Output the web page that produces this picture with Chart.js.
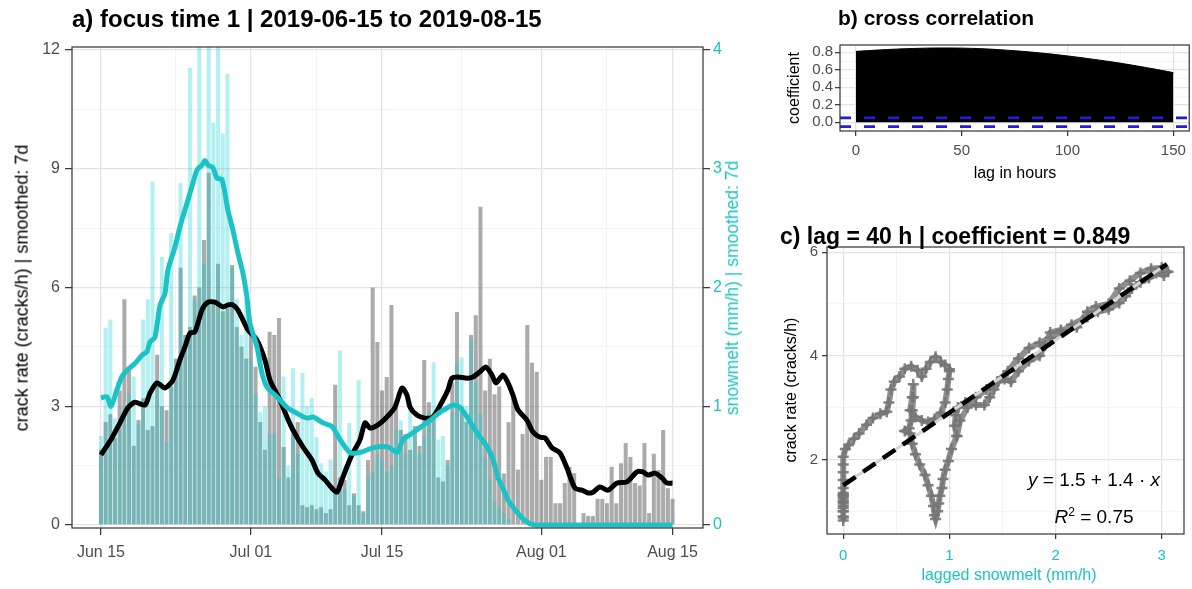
<!DOCTYPE html>
<html>
<head>
<meta charset="utf-8">
<script src="https://cdn.jsdelivr.net/npm/chart.js@4.4.1/dist/chart.umd.min.js"></script>
<style>
  body { margin: 0; background: #fff; width: 1192px; height: 589px; overflow: hidden; position: relative;
         font-family: "Liberation Sans", Arial, sans-serif; }
  canvas { position: absolute; }
  .txt { position: absolute; white-space: nowrap; line-height: 1.15; color: #000; }
</style>
</head>
<body>
<canvas id="melt-chart" width="760" height="589" style="left:0;top:0"></canvas>
<canvas id="ccf-chart" width="432" height="200" style="left:760px;top:0"></canvas>
<canvas id="lag-chart" width="432" height="359" style="left:760px;top:230px"></canvas>
<script>
// ---- panel a : 12 h bins from 2019-06-15 (day 0) ----
const crackBins = [1.9,2.6,2.8,2.2,3.4,5.7,3.9,2.0,2.65,3.2, 2.4,2.5,4.3,3.0,2.9,3.5,4.2,6.5,4.8,5.0,
  5.8,6.0,7.2,8.9,5.6,6.6,5.4,5.5,6.57,5.0, 4.5,4.2,5.0,4.0,2.6,1.9,4.88,4.8,5.23,1.97,
  1.2,2.3,2.6,0.5,0.45,0.5,0.4,0.45,0.3,0.4, 3.54,1.2,1.14,0.5,0.8,0.5,0.35,1.64,6.0,4.62,
  3.4,3.74,5.56,3.0,2.4,2.3,1.9,2.5,2.0,4.17, 3.1,2.8,1.2,1.1,1.64,3.6,5.38,3.0,2.6,4.8,
  5.3,8.04,3.4,4.2,3.3,3.5,1.3,2.6,3.2,1.4, 2.3,5.05,4.1,3.87,1.14,1.72,1.72,0.55,0.55,1.06,
  1.47,1.31,0,0.3,0.23,0.23,0.66,0.66,0.55,1.47, 0.55,1.56,2.07,1.72,1.06,1.0,2.07,0.3,1.8,1.39,
  2.4,0.93,0.66];
const snowBins = [0.75,1.66,1.73,0.9,0.8,1.0,1.1,1.25,0.85,1.73, 1.9,2.89,1.2,2.26,0.7,2.46,1.3,2.88,1.6,3.85,
  1.9,4.6,2.2,4.6,3.39,4.6,3.3,3.8,2.17,1.9, 1.6,1.9,1.4,1.1,0.95,1.0,0.77,0.77,0.4,1.25,
  0.5,1.32,0.6,1.28,1.0,1.07,0.74,0.52,0.45,0.55, 0.3,1.47,0.3,0.86,0.25,1.22,0.1,0.4,0.45,0.6,
  0.55,0.45,0.5,0.8,0.88,0.6,1.05,0.75,0.6,0.75, 0.95,1.37,0.72,0.75,0.5,0.95,1.36,1.41,1.0,1.56,
  1.2,0.94,0.57,0.38,0.2,0.15,0.1,0.05,0,0, 0,0,0,0,0,0,0,0,0,0,
  0,0,0,0,0,0,0,0,0,0, 0,0,0,0,0,0,0,0,0,0,
  0,0,0];

const crackSmoothDay = [0,1.17,2.03,2.88,3.63,4.70,5.23,5.98,6.83,7.68,8.43,8.96,9.50,10.03,10.78,11.42,12.17,13.02,13.55,14.09,
  14.62,15.15,15.69,16.65,17.50,18.04,19.10,19.85,20.49,21.56,22.52,23.16,23.91,24.65,25.19,25.72,26.25,26.89,27.64,28.18,
  28.71,29.56,30.52,31.38,32.12,32.66,32.98,33.72,34.58,35.43,36.50,37.03,37.46,38.10,39.06,39.70,40.45,41.09,41.73,42.16,
  42.90,43.44,43.97,44.50,45.46,46.10,46.85,47.39,48.13,48.99,49.73,50.59,51.33,51.97,52.51,53.25,54.11,55.07,56.14,57.20,
  57.84,58.38,59.12,59.87,60.40,61.0];
const crackSmooth = [1.77,2.2,2.58,2.96,3.1,3.03,3.33,3.59,3.46,3.66,4.17,4.5,4.85,4.88,5.43,5.63,5.63,5.51,5.56,5.56,
  5.43,5.18,4.93,4.67,4.17,3.66,3.16,2.73,2.4,1.97,1.64,1.31,1.14,0.93,0.83,1.14,1.47,1.82,2.15,2.58,
  2.45,2.53,2.73,2.98,3.46,3.28,2.98,2.78,2.7,2.73,3.16,3.41,3.71,3.74,3.71,3.74,3.87,3.99,3.79,3.59,
  3.79,3.59,3.28,2.91,2.65,2.35,2.22,2.2,1.95,1.82,1.44,0.93,0.88,0.81,0.83,0.96,0.88,1.06,1.09,1.34,
  1.34,1.26,1.31,1.19,1.06,1.06];
const snowSmoothDay = [0,0.64,1.07,1.71,2.24,2.88,3.63,4.38,4.91,5.23,5.76,6.30,6.83,7.15,7.90,8.43,9.18,9.71,10.25,10.78,
  11.10,11.42,11.95,12.38,12.91,13.55,14.09,14.62,15.15,15.58,15.90,16.65,17.18,17.72,18.78,19.85,20.92,21.99,22.63,23.69,
  24.65,25.51,26.57,27.64,29.03,30.10,30.84,31.59,32.23,32.98,34.04,35.11,36.18,37.03,37.57,38.31,39.06,39.70,40.45,41.20,
  41.84,42.37,42.90,43.44,44.18,44.93,45.78,46.53,61.0];
const snowSmooth = [1.07,1.08,1.0,1.14,1.25,1.31,1.36,1.43,1.46,1.54,1.58,1.85,1.95,2.15,2.34,2.51,2.71,2.85,2.99,3.03,
  3.07,3.03,3.01,2.92,2.91,2.65,2.48,2.29,2.12,1.92,1.70,1.50,1.28,1.16,1.08,0.99,0.94,0.90,0.91,0.86,
  0.83,0.72,0.61,0.61,0.65,0.66,0.65,0.61,0.72,0.76,0.82,0.88,0.95,0.99,1.01,0.99,0.91,0.83,0.74,0.66,
  0.55,0.40,0.31,0.21,0.13,0.06,0.01,0,0];

const dateTicks = [0,16,30,47,61];
const dateLabels = ["Jun 15","Jul 01","Jul 15","Aug 01","Aug 15"];
const dateMinor = [8,23,38.5,54];
const crackTicks = [0,3,6,9,12];
const crackMinor = [1.5,4.5,7.5,10.5];
const snowTicks = [0,1,2,3,4];

// ---- panel b ----
const lagHours = [0,10,20,30,40,50,60,70,80,90,100,110,120,130,140,150];
const ccfCoef = [0.81,0.825,0.837,0.845,0.849,0.847,0.84,0.826,0.808,0.785,0.758,0.727,0.693,0.655,0.613,0.567];
const ciBound = 0.05;
const lagTicks = [0,50,100,150];
const lagMinor = [25,75,125];
const coefTicks = [0,0.2,0.4,0.6,0.8];
const coefMinor = [0.1,0.3,0.5,0.7];

// ---- panel c ----
const lagMelt = [1.07,1.05,1.06,1.08,1.15,1.25,1.33,1.38,1.42,1.46,1.52,1.58,1.65,1.75,1.85,1.9,1.95,
  2.05,2.2,2.3,2.38,2.5,2.6,2.7,2.8,2.9,3.0,3.06,3.02,2.95,2.88,2.8,2.72,2.66,2.6,
  2.5,2.4,2.3,2.15,2.05,1.95,1.85,1.75,1.65,1.55,1.45,1.35,1.25,1.17,1.1,1.07,
  1.02,0.99,0.96,0.94,0.93,0.91,0.9,0.89,0.87,0.86,0.85,0.83,0.8,0.77,0.72,0.68,0.65,
  0.63,0.58,0.62,0.64,0.65,0.66,0.66,0.65,0.63,
  0.68,0.74,0.8,0.86,0.92,0.96,0.98,0.99,1.0,1.0,
  0.96,0.92,0.87,0.82,0.78,0.74,0.7,0.64,0.58,0.53,0.48,0.45,0.43,0.41,0.35,0.28,0.22,0.15,0.1,0.05,0.02,0,
  0,0,0,0,0,0,0,0,0,0,0,0,0,0,0,0,0,0,0];
const lagCrack = [2.45,2.65,2.85,3.0,3.1,3.05,3.05,3.2,3.35,3.5,3.55,3.5,3.7,3.9,4.0,4.2,4.45,
  4.5,4.55,4.85,4.95,5.0,5.3,5.45,5.6,5.68,5.7,5.62,5.55,5.6,5.5,5.42,5.3,5.15,5.02,
  4.9,4.85,4.75,4.6,4.45,4.35,4.25,4.15,3.95,3.7,3.5,3.35,3.2,3.0,2.75,2.45,
  2.2,1.97,1.8,1.62,1.45,1.3,1.15,1.0,0.85,0.92,1.1,1.3,1.5,1.7,1.9,2.1,2.3,
  2.5,2.55,2.6,2.75,2.95,3.2,3.45,3.2,2.95,
  2.82,2.75,2.72,2.78,2.9,3.1,3.35,3.55,3.7,3.74,
  3.82,3.88,3.98,3.88,3.75,3.6,3.72,3.8,3.75,3.6,3.5,3.35,3.1,2.92,2.88,2.8,2.67,2.5,2.4,2.28,2.2,2.05,
  1.9,1.75,1.6,1.45,1.3,1.15,1.0,0.88,0.82,0.9,1.0,1.1,1.2,1.32,1.35,1.25,1.3,1.18,1.06];
const fitMelt = [0,3.05];
const fitCrack = [1.5,5.77];
const meltTicks = [0,1,2,3];
const meltMinor = [0.5,1.5,2.5];
const rateTicks = [2,4,6];
const rateMinor = [1,3,5];

const FONT = '"Liberation Sans", Arial, sans-serif';
const CYAN = "#1cc3c6";
const TXT = "#4d4d4d";

function pairs(xs, ys) { return xs.map((x, i) => ({x: x, y: ys[i]})); }

// major axis: labels, tick marks, major grid
function axis(o) {
  return {
    type: "linear", position: o.pos, min: o.min, max: o.max, offset: false,
    afterBuildTicks: s => { s.ticks = o.major.map(v => ({value: v})); },
    afterFit: s => { if (o.w !== undefined) s.width = o.w; if (o.h !== undefined) s.height = o.h; },
    border: {display: false},
    grid: {offset: false, drawOnChartArea: o.grid !== false, color: "#e3e3e3", lineWidth: 1.3,
           tickColor: "#333", tickLength: o.tl, tickWidth: 1.2},
    ticks: {autoSkip: false, maxRotation: 0, padding: o.pad, color: o.color || TXT,
            font: {family: FONT, size: o.fs}, callback: v => o.fmt(v)}
  };
}
// minor grid only, takes no room
function minorAxis(pos, min, max, vals) {
  return {
    type: "linear", position: pos, min: min, max: max, offset: false,
    afterBuildTicks: s => { s.ticks = vals.map(v => ({value: v})); },
    afterFit: s => { if (pos === "left" || pos === "right") s.width = 0; else s.height = 0; },
    border: {display: false},
    grid: {offset: false, color: "#f1f1f1", lineWidth: 0.8, drawTicks: false},
    ticks: {display: false}
  };
}

const frame = {
  id: "frame",
  afterDatasetsDraw(chart) {
    const a = chart.chartArea, ctx = chart.ctx;
    ctx.save();
    ctx.strokeStyle = "#333";
    ctx.lineWidth = 1.2;
    ctx.strokeRect(a.left, a.top, a.right - a.left, a.bottom - a.top);
    ctx.restore();
  }
};

const common = {
  responsive: false, animation: false, devicePixelRatio: 1,
  plugins: {legend: {display: false}, tooltip: {enabled: false}}
};

// ---- panel a ----
new Chart("melt-chart", {
  type: "bar",
  data: {
    datasets: [
      {type: "line", label: "snowmelt smoothed", data: pairs(snowSmoothDay, snowSmooth), yAxisID: "y2",
       borderColor: CYAN, borderWidth: 5, pointRadius: 0, tension: 0.25, order: 0},
      {type: "line", label: "crack rate smoothed", data: pairs(crackSmoothDay, crackSmooth), yAxisID: "y",
       borderColor: "#000", borderWidth: 5, pointRadius: 0, tension: 0.25, order: 1},
      {label: "snowmelt", data: snowBins.map((v, i) => ({x: i * 0.5, y: v})), yAxisID: "y2",
       backgroundColor: "rgba(0,206,209,0.3)", grouped: false, barPercentage: 0.86, categoryPercentage: 1, order: 2},
      {label: "crack rate", data: crackBins.map((v, i) => ({x: i * 0.5, y: v})), yAxisID: "y",
       backgroundColor: "rgba(120,120,120,0.62)", grouped: false, barPercentage: 0.86, categoryPercentage: 1, order: 3}
    ]
  },
  options: Object.assign({}, common, {
    layout: {padding: {top: 47, left: 0, right: 0, bottom: 0}},
    scales: {
      xm: minorAxis("bottom", -3.09, 64.25, dateMinor),
      ym: minorAxis("left", -0.076, 12.076, crackMinor),
      x: axis({pos: "bottom", min: -3.09, max: 64.25, major: dateTicks, h: 61, tl: 7, pad: 8, fs: 16,
               fmt: v => dateLabels[dateTicks.indexOf(v)]}),
      y: axis({pos: "left", min: -0.076, max: 12.076, major: crackTicks, w: 72, tl: 7, pad: 5, fs: 16,
               fmt: v => String(v)}),
      y2: axis({pos: "right", min: -0.0253, max: 4.0253, major: snowTicks, w: 57, tl: 7, pad: 3, fs: 16, grid: false,
                color: CYAN, fmt: v => String(v)})
    }
  }),
  plugins: [frame]
});

// ---- panel b ----
new Chart("ccf-chart", {
  type: "line",
  data: {
    datasets: [
      {label: "upper", data: [{x: -7.5, y: ciBound}, {x: 157.5, y: ciBound}], borderColor: "#1f1fd6",
       borderWidth: 2.6, borderDash: [11, 13], pointRadius: 0, order: 0},
      {label: "lower", data: [{x: -7.5, y: -ciBound}, {x: 157.5, y: -ciBound}], borderColor: "#1f1fd6",
       borderWidth: 2.6, borderDash: [11, 13], pointRadius: 0, order: 0},
      {label: "coefficient", data: pairs(lagHours, ccfCoef), borderColor: "#000", backgroundColor: "#000",
       fill: "origin", borderWidth: 1, pointRadius: 0, tension: 0.4, order: 1}
    ]
  },
  options: Object.assign({}, common, {
    layout: {padding: {top: 45, left: 0, right: 2, bottom: 0}},
    scales: {
      xm: minorAxis("bottom", -7.5, 157.5, lagMinor),
      ym: minorAxis("left", -0.1, 0.883, coefMinor),
      x: axis({pos: "bottom", min: -7.5, max: 157.5, major: lagTicks, h: 69, tl: 5, pad: 6, fs: 15,
               fmt: v => String(v)}),
      y: axis({pos: "left", min: -0.1, max: 0.883, major: coefTicks, w: 80, tl: 5, pad: 2, fs: 15,
               fmt: v => v.toFixed(1)})
    }
  }),
  plugins: [frame]
});

// ---- panel c ----
new Chart("lag-chart", {
  type: "scatter",
  data: {
    datasets: [
      {label: "fit", data: pairs(fitMelt, fitCrack), showLine: true, borderColor: "#000", borderWidth: 4.5,
       borderDash: [15, 9], pointRadius: 0, order: 0},
      {label: "fit band", data: pairs(fitMelt, fitCrack), showLine: true, borderColor: "#d4d4d4", borderWidth: 3,
       pointRadius: 0, order: 1},
      {label: "lagged", data: pairs(lagMelt, lagCrack), showLine: true, borderColor: "rgba(130,130,130,0.9)",
       borderWidth: 6, pointStyle: "cross", pointRadius: 5.5, pointBorderWidth: 2.5,
       pointBorderColor: "rgba(118,118,118,0.9)", order: 2}
    ]
  },
  options: Object.assign({}, common, {
    layout: {padding: {top: 17, left: 0, right: 2, bottom: 0}},
    scales: {
      xm: minorAxis("bottom", -0.153, 3.21, meltMinor),
      ym: minorAxis("left", 0.56, 6.1, rateMinor),
      x: axis({pos: "bottom", min: -0.153, max: 3.21, major: meltTicks, h: 55, tl: 5, pad: 8, fs: 15,
               color: CYAN, fmt: v => String(v)}),
      y: axis({pos: "left", min: 0.56, max: 6.1, major: rateTicks, w: 67, tl: 5, pad: 4, fs: 15,
               fmt: v => String(v)})
    }
  }),
  plugins: [frame]
});

// ---- titles and axis titles ----
function addText(html, x, y, size, opt) {
  opt = opt || {};
  const d = document.createElement("div");
  d.className = "txt";
  d.innerHTML = html;
  d.style.left = x + "px";
  d.style.top = y + "px";
  d.style.fontSize = size + "px";
  if (opt.bold) d.style.fontWeight = "bold";
  if (opt.color) d.style.color = opt.color;
  if (opt.rot) d.style.transform = "translate(-50%,-50%) rotate(-90deg)";
  else if (opt.center) d.style.transform = "translate(-50%,-50%)";
  else d.style.transform = "translate(0,-50%)";
  document.body.appendChild(d);
}
addText("a) focus time 1 | 2019-06-15 to 2019-08-15", 72, 19, 24, {bold: true});
addText("b) cross correlation", 838, 18, 21, {bold: true});
addText("c) lag = 40 h | coefficient = 0.849", 780, 236, 23, {bold: true});
addText("crack rate (cracks/h) | smoothed: 7d", 22, 288, 18, {rot: true});
addText("snowmelt (mm/h) | smoothed: 7d", 732, 288, 17.5, {rot: true, color: CYAN});
addText("coefficient", 794, 88, 16, {rot: true});
addText("lag in hours", 1015, 173, 16, {center: true});
addText("crack rate (cracks/h)", 791, 390, 16, {rot: true});
addText("lagged snowmelt (mm/h)", 1009, 575, 16, {center: true, color: CYAN});
addText("<i>y</i> = 1.5 + 1.4 &middot; <i>x</i>", 1094, 480, 19, {center: true});
addText("<i>R</i><sup style=\"font-size:12px\">2</sup> = 0.75", 1094, 517, 19, {center: true});
</script>
</body>
</html>
